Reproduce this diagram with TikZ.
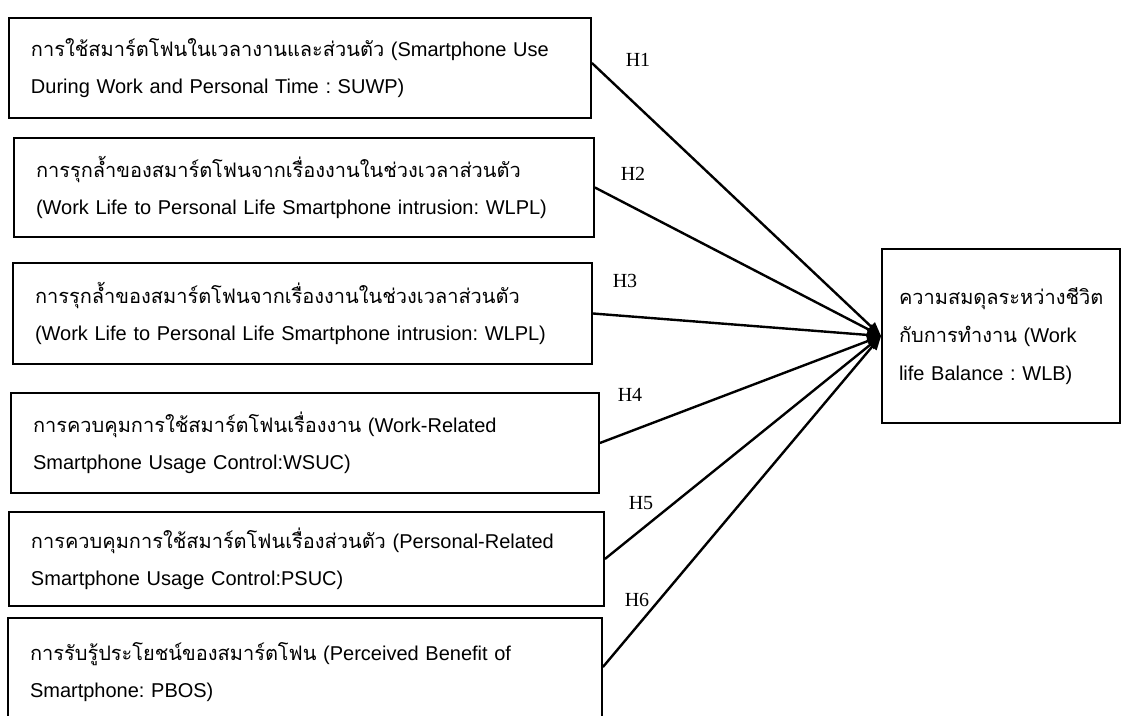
\documentclass[tikz,border=0pt]{standalone}
\usepackage{fontspec}
\setmainfont{Liberation Sans}
\newfontfamily\thaifont[Script=Thai]{Loma}
\newfontfamily\hypfont{Liberation Serif}
\usetikzlibrary{arrows.meta}
\frenchspacing
\tikzset{
  factor/.style={draw=black, line width=0.9pt, align=left, inner xsep=11pt, inner ysep=0pt, font=\fontsize{10}{18.5}\selectfont},
  link/.style={line width=1.2pt, -{Triangle[length=7pt,width=5.5pt]}},
  hyp/.style={font=\hypfont\fontsize{10}{12}\selectfont, inner sep=0pt},
}
\begin{document}
\begin{tikzpicture}[x=0.5pt, y=-0.5pt]
  \useasboundingbox (0,0) rectangle (1128,716);
  \clip (0,0) rectangle (1128,716);

  \node[factor, text width=269pt, minimum height=50pt] (suwp) at (300,68)
    {{\thaifont การใช้สมาร์ตโฟนในเวลางานและส่วนตัว} (Smartphone Use\\During Work and Personal Time : SUWP)};
  \node[factor, text width=268pt, minimum height=49.5pt] (wlpla) at (304,187.5)
    {{\thaifont การรุกล้ำของสมาร์ตโฟนจากเรื่องงานในช่วงเวลาส่วนตัว}\\(Work Life to Personal Life Smartphone intrusion: WLPL)};
  \node[factor, text width=267.5pt, minimum height=50.5pt] (wlplb) at (302.5,313.5)
    {{\thaifont การรุกล้ำของสมาร์ตโฟนจากเรื่องงานในช่วงเวลาส่วนตัว}\\(Work Life to Personal Life Smartphone intrusion: WLPL)};
  \node[factor, text width=272pt, minimum height=50pt] (wsuc) at (305,443)
    {{\thaifont การควบคุมการใช้สมาร์ตโฟนเรื่องงาน} (Work-Related\\Smartphone Usage Control:WSUC)};
  \node[factor, text width=275.5pt, minimum height=47pt] (psuc) at (306.5,559)
    {{\thaifont การควบคุมการใช้สมาร์ตโฟนเรื่องส่วนตัว} (Personal-Related\\Smartphone Usage Control:PSUC)};
  \node[factor, text width=275pt, minimum height=54pt] (pbos) at (305,672)
    {{\thaifont การรับรู้ประโยชน์ของสมาร์ตโฟน} (Perceived Benefit of\\Smartphone: PBOS)};

  \node[factor, inner xsep=8.5pt, text width=102pt, minimum height=87pt, font=\fontsize{10}{19}\selectfont] (wlb) at (1001,336)
    {{\thaifont ความสมดุลระหว่างชีวิต}\\{\thaifont กับการทำงาน} (Work\\life Balance : WLB)\\[-5pt]};

  \draw[link] ([yshift=2.5pt]suwp.east) -- (wlb.west);
  \draw[link] (wlpla.east) -- (wlb.west);
  \draw[link] (wlplb.east) -- (wlb.west);
  \draw[link] (wsuc.east) -- (wlb.west);
  \draw[link] (psuc.east) -- (wlb.west);
  \draw[link] ([yshift=2.5pt]pbos.east) -- (wlb.west);

  \node[hyp] (h1) at (638,60) {H1};
  \node[hyp] (h2) at (633,174) {H2};
  \node[hyp] (h3) at (625,281) {H3};
  \node[hyp] (h4) at (630,395) {H4};
  \node[hyp] (h5) at (641,503) {H5};
  \node[hyp] (h6) at (637,600) {H6};
\end{tikzpicture}
\end{document}
